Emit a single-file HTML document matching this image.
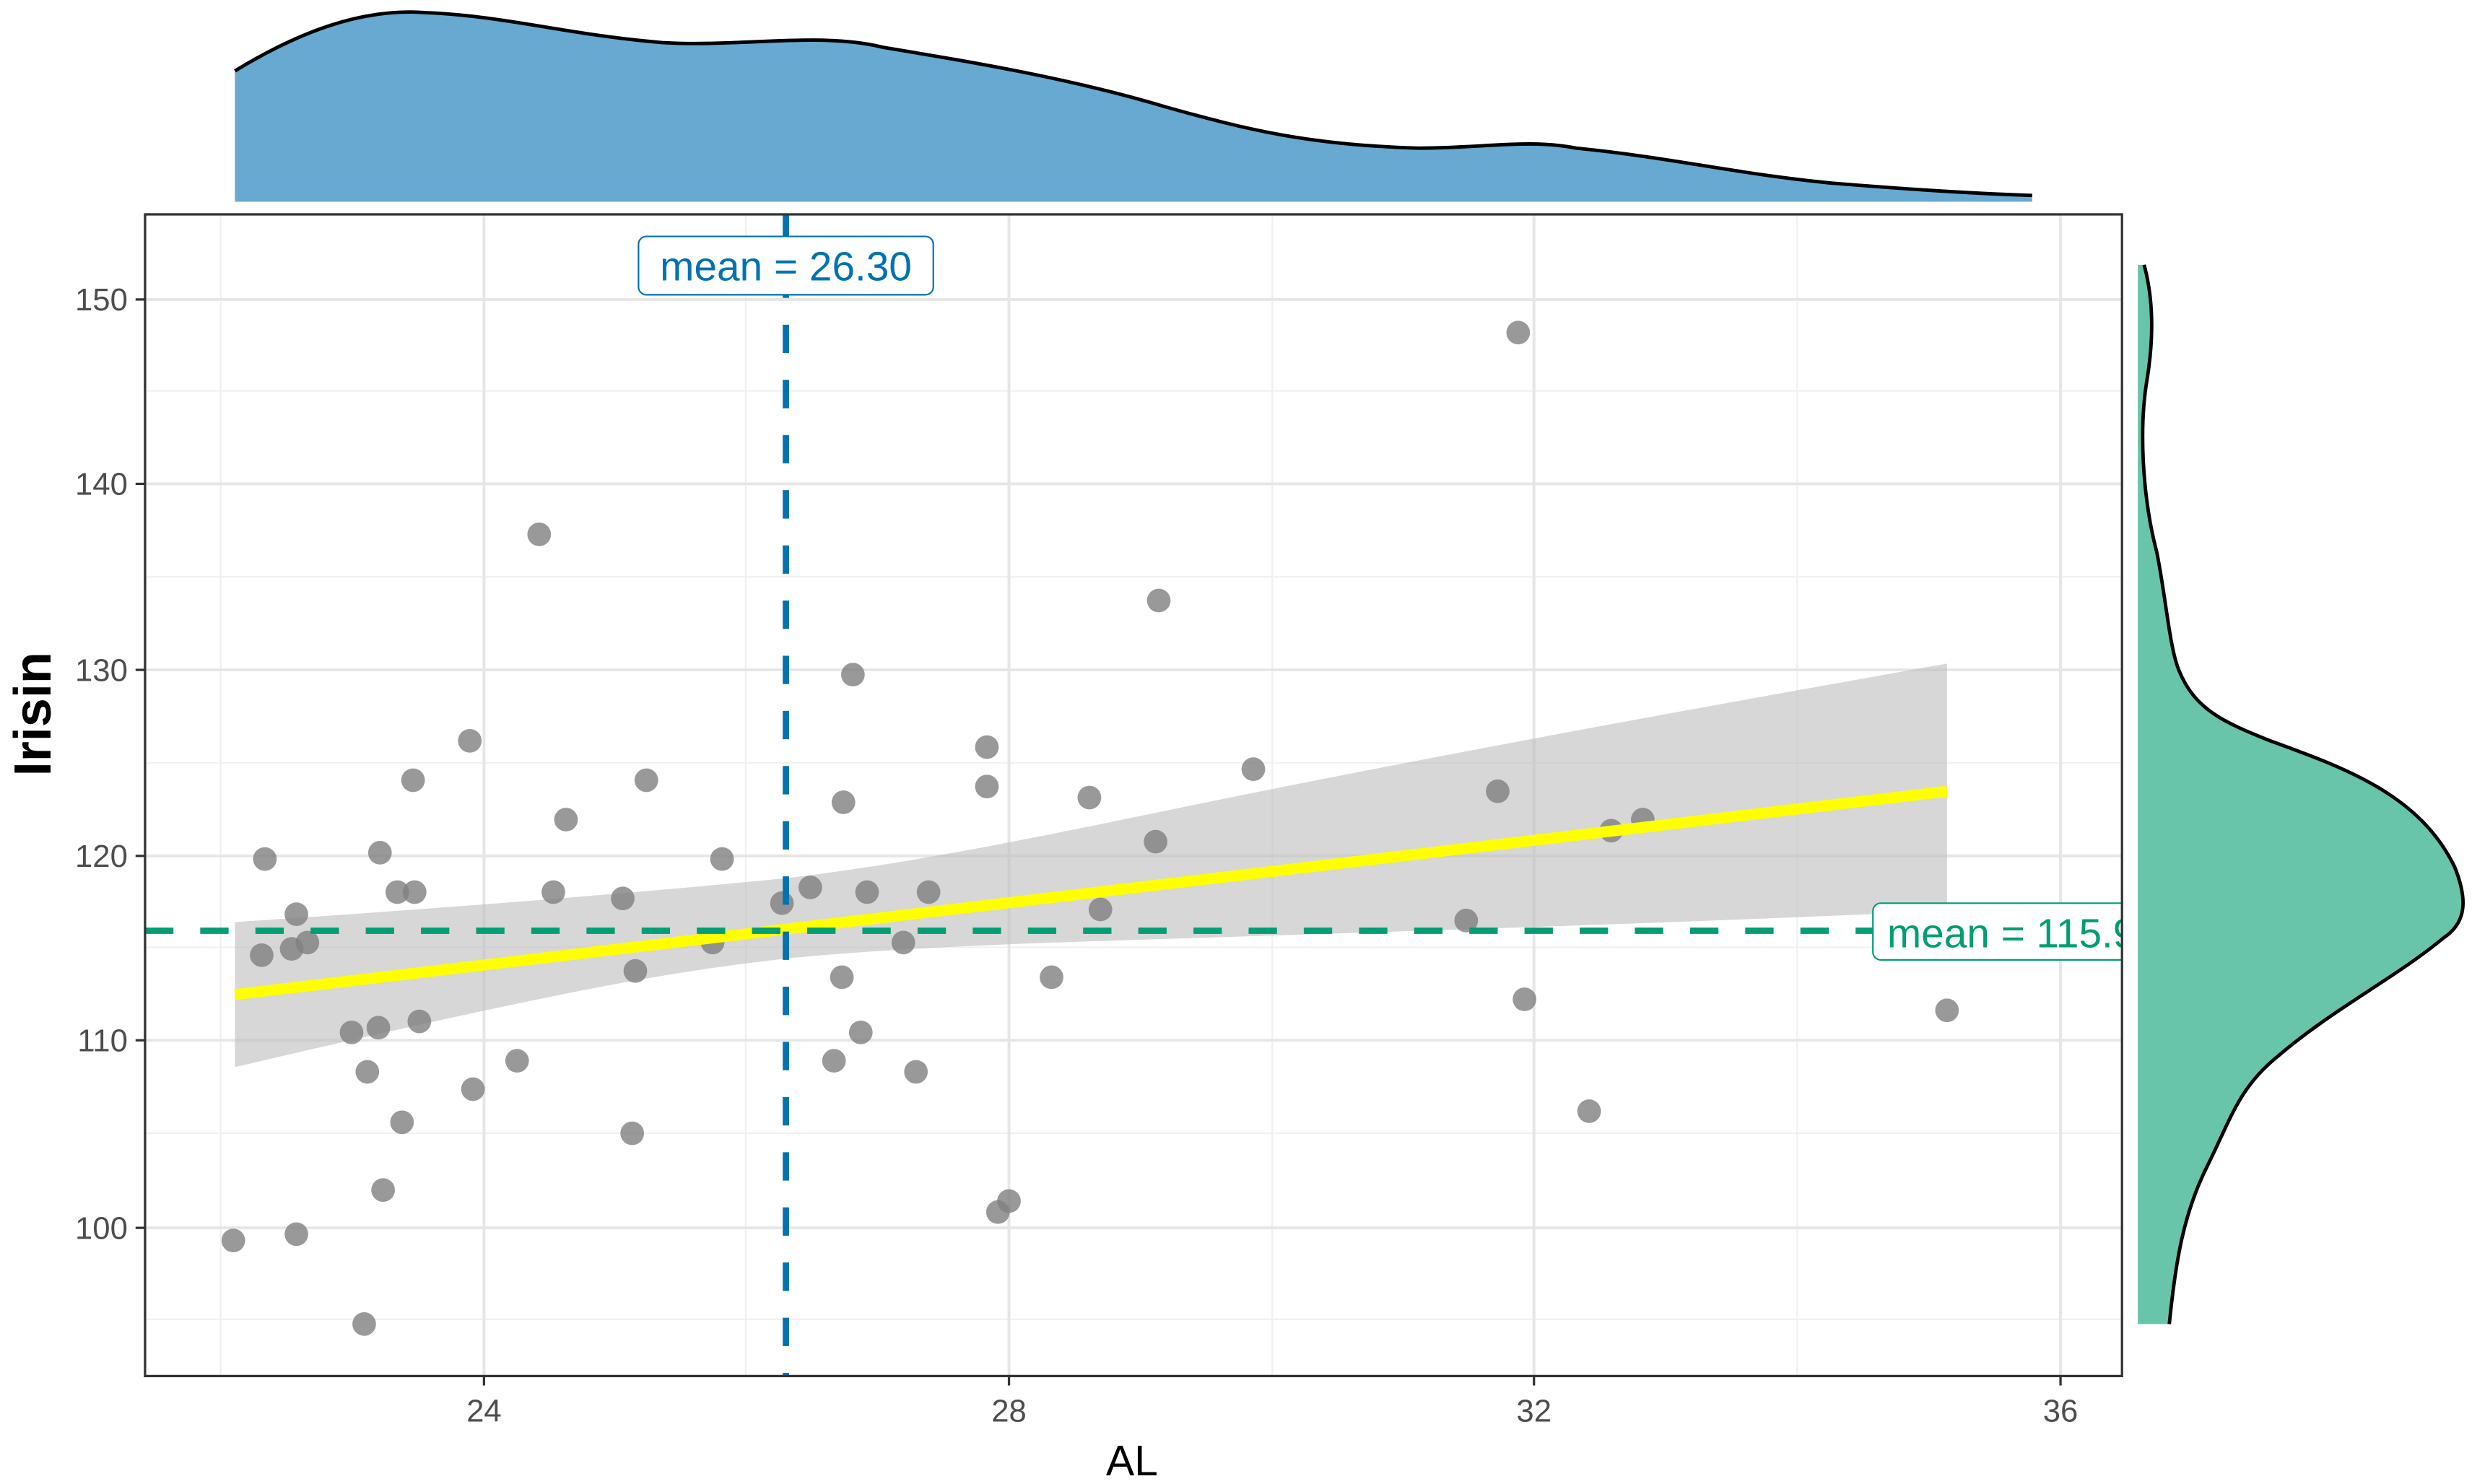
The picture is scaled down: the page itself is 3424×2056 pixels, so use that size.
<!DOCTYPE html>
<html><head><style>html,body{margin:0;padding:0;background:#fff}svg{display:block}</style></head>
<body>
<svg width="3424" height="2056" viewBox="0 0 1568 941.5" preserveAspectRatio="none" xmlns="http://www.w3.org/2000/svg" font-family="Liberation Sans, Arial, sans-serif">
<rect width="1568" height="941.5" fill="#fff"/>
<!-- top density -->
<path d="M149,128 L149,45 C190,20 230,5 270,8 C320,10 360,22 420,27 C470,30 520,20 560,30 C620,40 680,50 740,68 C790,82 830,92 900,94 C940,94 970,88 1000,94 C1060,100 1100,110 1160,116 C1220,121 1260,123 1289,124 L1289,128 Z" fill="#67a9d1"/>
<path d="M149,45 C190,20 230,5 270,8 C320,10 360,22 420,27 C470,30 520,20 560,30 C620,40 680,50 740,68 C790,82 830,92 900,94 C940,94 970,88 1000,94 C1060,100 1100,110 1160,116 C1220,121 1260,123 1289,124" fill="none" stroke="#000" stroke-width="2.2"/>
<!-- right density -->
<path d="M1356,168 L1360,168 C1366,190 1366,215 1362,240 C1356,275 1360,320 1368,350 C1374,380 1376,410 1382,425 C1392,450 1410,458 1440,470 C1490,488 1535,505 1557,550 C1565,570 1565,585 1550,595 C1520,620 1480,640 1445,670 C1420,690 1415,710 1400,740 C1385,770 1380,800 1376,840 L1356,840 Z" fill="#69c5aa"/>
<path d="M1360,168 C1366,190 1366,215 1362,240 C1356,275 1360,320 1368,350 C1374,380 1376,410 1382,425 C1392,450 1410,458 1440,470 C1490,488 1535,505 1557,550 C1565,570 1565,585 1550,595 C1520,620 1480,640 1445,670 C1420,690 1415,710 1400,740 C1385,770 1380,800 1376,840" fill="none" stroke="#000" stroke-width="2.2"/>
<!-- panel -->
<g stroke="#f0f0f0" stroke-width="1">
<line x1="140" y1="136" x2="140" y2="873"/><line x1="473" y1="136" x2="473" y2="873"/><line x1="807" y1="136" x2="807" y2="873"/><line x1="1140" y1="136" x2="1140" y2="873"/>
<line x1="92" y1="248" x2="1346" y2="248"/><line x1="92" y1="366" x2="1346" y2="366"/><line x1="92" y1="484" x2="1346" y2="484"/><line x1="92" y1="601" x2="1346" y2="601"/><line x1="92" y1="719" x2="1346" y2="719"/><line x1="92" y1="837" x2="1346" y2="837"/>
</g>
<g stroke="#e6e6e6" stroke-width="1.8">
<line x1="307" y1="136" x2="307" y2="873"/><line x1="640" y1="136" x2="640" y2="873"/><line x1="973" y1="136" x2="973" y2="873"/><line x1="1307" y1="136" x2="1307" y2="873"/>
<line x1="92" y1="190" x2="1346" y2="190"/><line x1="92" y1="307" x2="1346" y2="307"/><line x1="92" y1="425" x2="1346" y2="425"/><line x1="92" y1="543" x2="1346" y2="543"/><line x1="92" y1="660" x2="1346" y2="660"/><line x1="92" y1="779" x2="1346" y2="779"/>
</g>
<!-- CI band -->
<path d="M149,585 C300,575 420,565 500,557 C600,545 700,522 800,502 C950,472 1100,445 1235,421 L1235,578 C1000,588 850,592 700,597 C600,600 540,604 500,608 C420,617 350,630 149,677 Z" fill="#bdbdbd" fill-opacity="0.6"/>
<!-- points -->
<g fill="#7f7f7f" fill-opacity="0.8">
<circle cx="148" cy="787" r="7.5"/><circle cx="166" cy="606" r="7.5"/><circle cx="168" cy="545" r="7.5"/><circle cx="185" cy="602" r="7.5"/><circle cx="188" cy="580" r="7.5"/><circle cx="195" cy="598" r="7.5"/><circle cx="188" cy="783" r="7.5"/><circle cx="223" cy="655" r="7.5"/><circle cx="231" cy="840" r="7.5"/><circle cx="233" cy="680" r="7.5"/><circle cx="240" cy="652" r="7.5"/><circle cx="241" cy="541" r="7.5"/><circle cx="243" cy="755" r="7.5"/><circle cx="252" cy="566" r="7.5"/><circle cx="255" cy="712" r="7.5"/><circle cx="262" cy="495" r="7.5"/><circle cx="263" cy="566" r="7.5"/><circle cx="266" cy="648" r="7.5"/><circle cx="298" cy="470" r="7.5"/><circle cx="300" cy="691" r="7.5"/><circle cx="328" cy="673" r="7.5"/><circle cx="342" cy="339" r="7.5"/><circle cx="351" cy="566" r="7.5"/><circle cx="359" cy="520" r="7.5"/><circle cx="395" cy="570" r="7.5"/><circle cx="401" cy="719" r="7.5"/><circle cx="403" cy="616" r="7.5"/><circle cx="410" cy="495" r="7.5"/><circle cx="452" cy="598" r="7.5"/><circle cx="458" cy="545" r="7.5"/><circle cx="496" cy="573" r="7.5"/><circle cx="514" cy="563" r="7.5"/><circle cx="534" cy="620" r="7.5"/><circle cx="535" cy="509" r="7.5"/><circle cx="529" cy="673" r="7.5"/><circle cx="541" cy="428" r="7.5"/><circle cx="546" cy="655" r="7.5"/><circle cx="550" cy="566" r="7.5"/><circle cx="573" cy="598" r="7.5"/><circle cx="581" cy="680" r="7.5"/><circle cx="589" cy="566" r="7.5"/><circle cx="626" cy="474" r="7.5"/><circle cx="626" cy="499" r="7.5"/><circle cx="633" cy="769" r="7.5"/><circle cx="640" cy="762" r="7.5"/><circle cx="667" cy="620" r="7.5"/><circle cx="691" cy="506" r="7.5"/><circle cx="698" cy="577" r="7.5"/><circle cx="733" cy="534" r="7.5"/><circle cx="735" cy="381" r="7.5"/><circle cx="795" cy="488" r="7.5"/><circle cx="930" cy="584" r="7.5"/><circle cx="950" cy="502" r="7.5"/><circle cx="963" cy="211" r="7.5"/><circle cx="967" cy="634" r="7.5"/><circle cx="1008" cy="705" r="7.5"/><circle cx="1022" cy="527" r="7.5"/><circle cx="1042" cy="520" r="7.5"/><circle cx="1235" cy="641" r="7.5"/>
</g>
<!-- regression -->
<line x1="149" y1="631" x2="1235" y2="502" stroke="#ffff00" stroke-width="7"/>
<!-- mean lines -->
<line x1="92" y1="590.5" x2="1346" y2="590.5" stroke="#009E73" stroke-width="4" stroke-dasharray="18,17"/>
<line x1="498.5" y1="136" x2="498.5" y2="873" stroke="#0072B2" stroke-width="4" stroke-dasharray="18,17"/>
<!-- labels -->
<rect x="405" y="150" width="187" height="37" rx="5" fill="#fff" stroke="#0072B2" stroke-width="1"/>
<text x="498.5" y="178" font-size="26" fill="#0072B2" text-anchor="middle">mean = 26.30</text>
<svg x="1180" y="560" width="166" height="60" overflow="hidden">
<rect x="8" y="13" width="220" height="36" rx="5" fill="#fff" stroke="#009E73" stroke-width="1"/>
<text x="17" y="41" font-size="26" fill="#009E73">mean = 115.96</text>
</svg>
<rect x="92" y="136" width="1254" height="737" fill="none" stroke="#333" stroke-width="1.5"/>
<!-- ticks -->
<g stroke="#333" stroke-width="1.5">
<line x1="307" y1="873" x2="307" y2="879"/><line x1="640" y1="873" x2="640" y2="879"/><line x1="973" y1="873" x2="973" y2="879"/><line x1="1307" y1="873" x2="1307" y2="879"/>
<line x1="86" y1="190" x2="92" y2="190"/><line x1="86" y1="307" x2="92" y2="307"/><line x1="86" y1="425" x2="92" y2="425"/><line x1="86" y1="543" x2="92" y2="543"/><line x1="86" y1="660" x2="92" y2="660"/><line x1="86" y1="779" x2="92" y2="779"/>
</g>
<g font-size="20" fill="#4d4d4d">
<g text-anchor="middle"><text x="307" y="902">24</text><text x="640" y="902">28</text><text x="973" y="902">32</text><text x="1307" y="902">36</text></g>
<g text-anchor="end"><text x="81" y="197">150</text><text x="81" y="314">140</text><text x="81" y="432">130</text><text x="81" y="550">120</text><text x="81" y="667">110</text><text x="81" y="786">100</text></g>
</g>
<text x="718" y="936" font-size="27" text-anchor="middle" fill="#000">AL</text>
<text transform="translate(32,453) rotate(-90)" font-size="33" font-weight="bold" text-anchor="middle" fill="#000">Irisin</text>
</svg>
</body></html>
